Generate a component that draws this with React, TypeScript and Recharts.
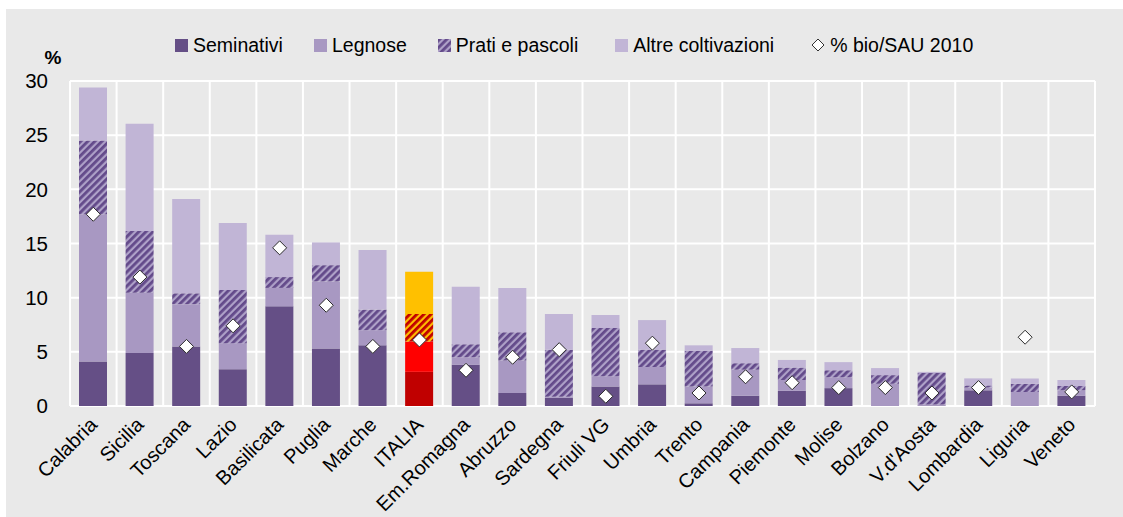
import React from 'react';
import { ComposedChart, Bar, Line, XAxis, YAxis, CartesianGrid, Legend, Cell } from 'recharts';

const categories = ['Calabria', 'Sicilia', 'Toscana', 'Lazio', 'Basilicata', 'Puglia', 'Marche', 'ITALIA', 'Em.Romagna', 'Abruzzo', 'Sardegna', 'Friuli VG', 'Umbria', 'Trento', 'Campania', 'Piemonte', 'Molise', 'Bolzano', "V.d'Aosta", 'Lombardia', 'Liguria', 'Veneto'];
const seminativi = [4.1, 4.9, 5.5, 3.4, 9.2, 5.3, 5.6, 3.15, 3.8, 1.2, 0.75, 1.8, 2.0, 0.25, 0.95, 1.4, 1.65, 0.0, 0.05, 1.45, 0.0, 0.95];
const legnose = [13.6, 5.55, 3.9, 2.4, 1.7, 6.2, 1.4, 2.8, 0.7, 3.0, 0.1, 0.95, 1.6, 1.55, 2.4, 1.0, 1.0, 2.05, 0.1, 0.25, 1.3, 0.5];
const prati = [6.8, 5.7, 1.0, 4.9, 1.0, 1.5, 1.9, 2.55, 1.2, 2.6, 4.35, 4.45, 1.6, 3.3, 0.6, 1.15, 0.65, 0.8, 2.9, 0.2, 0.75, 0.4];
const altre = [4.9, 9.9, 8.7, 6.2, 3.9, 2.1, 5.5, 3.9, 5.3, 4.1, 3.3, 1.2, 2.73, 0.5, 1.4, 0.7, 0.75, 0.65, 0.1, 0.65, 0.5, 0.55];
const bioSau2010 = [17.7, 11.9, 5.5, 7.4, 14.6, 9.3, 5.5, 6.1, 3.3, 4.5, 5.2, 0.9, 5.8, 1.2, 2.7, 2.15, 1.7, 1.7, 1.2, 1.7, 6.35, 1.3];
const yTicks = [0, 5, 10, 15, 20, 25, 30];
const highlight = 'ITALIA';

const data = categories.map((name, i) => ({
  name,
  seminativi: seminativi[i],
  legnose: legnose[i],
  prati: prati[i],
  altre: altre[i],
  bio: bioSau2010[i],
}));

const series = [
  { key: 'seminativi', name: 'Seminativi', fill: '#654f86', hi: '#c00000' },
  { key: 'legnose', name: 'Legnose', fill: '#a898c2', hi: '#ff0000' },
  { key: 'prati', name: 'Prati e pascoli', fill: 'url(#hatchPurple)', hi: 'url(#hatchRed)' },
  { key: 'altre', name: 'Altre coltivazioni', fill: '#c1b5d6', hi: '#ffc000' },
];

const FONT = '"Liberation Sans", Arial, Helvetica, sans-serif';

const Diamond = (props: any) => {
  const { cx, cy } = props;
  if (cx == null || cy == null) return null;
  const r = 7;
  return (
    <polygon
      points={`${cx},${cy - r} ${cx + r},${cy} ${cx},${cy + r} ${cx - r},${cy}`}
      fill="#ffffff"
      stroke="#2b2b2b"
      strokeWidth={1}
    />
  );
};

const XTick = (props: any) => {
  const { x, y, payload } = props;
  return (
    <g transform={`translate(${x + 5},${y + 14})`}>
      <text transform="rotate(-45)" textAnchor="end" x={0} y={0} fontSize={20} fill="#000" fontFamily={FONT}>
        {payload.value}
      </text>
    </g>
  );
};

const renderLegend = () => {
  const gaps = [31, 31, 37, 37];
  return (
    <div style={{ display: 'flex', alignItems: 'center', height: 30, fontSize: 19.5, color: '#000', fontFamily: FONT, whiteSpace: 'nowrap' }}>
      {series.map((s, i) => (
        <div key={s.key} style={{ display: 'flex', alignItems: 'center', marginRight: gaps[i] }}>
          <svg width={13} height={13} style={{ display: 'block' }}>
            <rect x={0} y={0} width={13} height={13} fill={s.fill} />
          </svg>
          <span style={{ marginLeft: 5 }}>{s.name}</span>
        </div>
      ))}
      <div style={{ display: 'flex', alignItems: 'center' }}>
        <svg width={14} height={14} style={{ display: 'block' }}>
          <polygon points="7,1 13,7 7,13 1,7" fill="#fff" stroke="#333" strokeWidth={1} />
        </svg>
        <span style={{ marginLeft: 5 }}>% bio/SAU 2010</span>
      </div>
    </div>
  );
};

const verticalGen = ({ offset }: any) => {
  const n = categories.length;
  return Array.from({ length: n + 1 }, (_, i) => offset.left + (i * offset.width) / n);
};

export default function App() {
  return (
    <div
      style={{
        position: 'absolute',
        left: 6,
        top: 9,
        width: 1117,
        height: 508,
        background: '#e9e9e9',
        fontFamily: FONT,
      }}
    >
      <svg width={0} height={0} style={{ position: 'absolute' }}>
        <defs>
          <pattern id="hatchPurple" patternUnits="userSpaceOnUse" width={5} height={5} patternTransform="rotate(45)">
            <rect x={0} y={0} width={5} height={5} fill="#aea1c8" />
            <rect x={0} y={0} width={2.8} height={5} fill="#634a8a" />
          </pattern>
          <pattern id="hatchRed" patternUnits="userSpaceOnUse" width={5} height={5} patternTransform="rotate(45)">
            <rect x={0} y={0} width={5} height={5} fill="#ffc000" />
            <rect x={0} y={0} width={2.8} height={5} fill="#c00000" />
          </pattern>
        </defs>
      </svg>
      <ComposedChart
        width={1117}
        height={508}
        data={data}
        margin={{ top: 42, right: 28, bottom: 11, left: 0 }}
        barSize={28}
      >
        <CartesianGrid stroke="#ffffff" strokeWidth={2} verticalCoordinatesGenerator={verticalGen} />
        <XAxis
          dataKey="name"
          axisLine={false}
          tickLine={false}
          interval={0}
          tickMargin={0}
          height={100}
          tick={<XTick />}
        />
        <YAxis
          width={64}
          domain={[0, 30]}
          ticks={yTicks}
          axisLine={false}
          tickLine={false}
          tickMargin={16}
          tick={{ fontSize: 20.5, fill: '#000', fontFamily: FONT }}
          label={{
            content: (p: any) => {
              const vb = p.viewBox || {};
              return (
                <text x={vb.x + vb.width - 17} y={vb.y - 17} textAnchor="middle" fontSize={19} fontWeight="bold" fill="#000" fontFamily={FONT}>
                  %
                </text>
              );
            },
          }}
        />
        <Legend verticalAlign="top" content={renderLegend} wrapperStyle={{ top: 21, left: 169, width: 840 }} />
        {series.map((s) => (
          <Bar key={s.key} dataKey={s.key} name={s.name} stackId="a" fill={s.fill} isAnimationActive={false}>
            {data.map((d, i) => (
              <Cell key={i} fill={d.name === highlight ? s.hi : s.fill} />
            ))}
          </Bar>
        ))}
        <Line
          dataKey="bio"
          name="% bio/SAU 2010"
          stroke="none"
          strokeWidth={0}
          dot={(p: any) => <Diamond key={`d-${p.index}`} {...p} />}
          activeDot={false}
          legendType="diamond"
          isAnimationActive={false}
        />
      </ComposedChart>
    </div>
  );
}
